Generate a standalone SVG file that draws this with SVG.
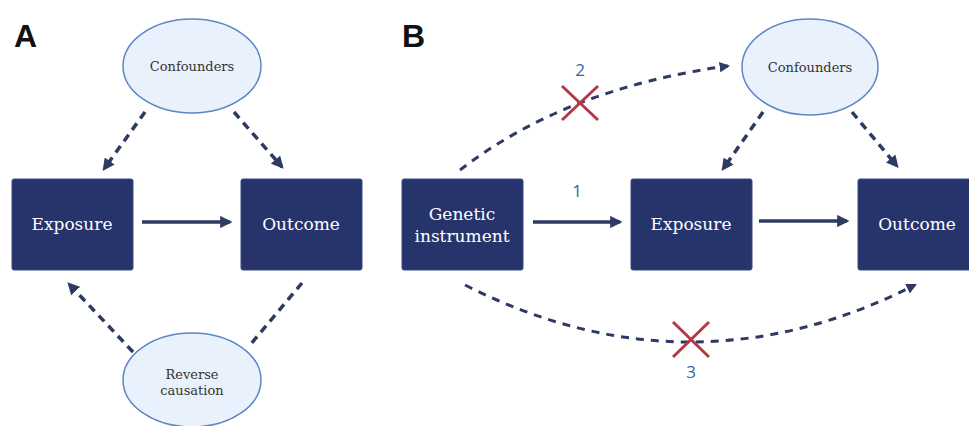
<svg xmlns="http://www.w3.org/2000/svg" width="969" height="426" viewBox="0 0 969 426">
<defs>
<style>
.box{fill:#27336b;stroke:#3a4680;stroke-width:1}
.ell{fill:#e9f1fc;stroke:#5c86c4;stroke-width:1.5}
.bt{font-family:"DejaVu Serif","Liberation Serif",serif;font-size:17px;fill:#ffffff;text-anchor:middle}
.et{font-family:"DejaVu Serif","Liberation Serif",serif;font-size:13px;fill:#333333;text-anchor:middle}
.lab{font-family:"Liberation Sans",Arial,sans-serif;font-size:32px;font-weight:bold;fill:#111111}
.num{font-family:"Open Sans","Liberation Sans",sans-serif;font-size:17px;fill:#2f6aa0;text-anchor:middle}
.dash{fill:none;stroke:#2d3a62;stroke-width:3.5;stroke-dasharray:8 6}
.dashc{fill:none;stroke:#2d3a62;stroke-width:3;stroke-dasharray:8 7}
.solid{fill:none;stroke:#2d3a62;stroke-width:3.5}
.x{stroke:#b23a48;stroke-width:3;fill:none}
</style>
<marker id="ah" viewBox="0 0 10 10" refX="8" refY="5" markerWidth="3.5" markerHeight="3.5" orient="auto" markerUnits="strokeWidth">
<path d="M0,0 L10,5 L0,10 Z" fill="#2d3a62"/>
</marker>
</defs>

<text class="lab" x="14" y="47">A</text>
<text class="lab" x="402" y="47">B</text>

<g id="connectors">
<line class="solid" x1="142" y1="222" x2="230" y2="222" marker-end="url(#ah)"/>
<line class="dash" x1="145" y1="112" x2="104" y2="169" marker-end="url(#ah)"/>
<line class="dash" x1="234" y1="112" x2="282" y2="167" marker-end="url(#ah)"/>
<line class="dash" x1="133" y1="352" x2="69" y2="284" marker-end="url(#ah)"/>
<line class="dash" x1="302" y1="283" x2="250" y2="345"/>

<line class="solid" x1="533" y1="222" x2="620" y2="222" marker-end="url(#ah)"/>
<line class="solid" x1="759" y1="221" x2="847" y2="221" marker-end="url(#ah)"/>
<line class="dash" x1="763" y1="112" x2="723" y2="169" marker-end="url(#ah)"/>
<line class="dash" x1="852" y1="112" x2="897" y2="166" marker-end="url(#ah)"/>
<path class="dashc" d="M460,170 Q566,88 728,66" marker-end="url(#ah)"/>
<path class="dashc" d="M465,285 Q690,399 915,285" marker-end="url(#ah)"/>
<path class="x" d="M562,86 L598,120 M562,120 L598,86"/>
<path class="x" d="M673,322 L709,357 M673,357 L709,322"/>
<text class="num" x="580" y="76">2</text>
<text class="num" x="577" y="197">1</text>
<text class="num" x="691" y="378">3</text>
</g>

<g id="a-confounders">
<ellipse class="ell" cx="192" cy="66" rx="69" ry="47"/>
<text class="et" x="192" y="71">Confounders</text>
</g>
<g id="a-exposure">
<rect class="box" x="12" y="179" width="121" height="91" rx="2"/>
<text class="bt" x="72" y="230">Exposure</text>
</g>
<g id="a-outcome">
<rect class="box" x="241" y="179" width="121" height="91" rx="2"/>
<text class="bt" x="301" y="230">Outcome</text>
</g>
<g id="a-reverse">
<ellipse class="ell" cx="192" cy="380" rx="69" ry="47"/>
<text class="et" x="192" y="379">Reverse</text>
<text class="et" x="192" y="395">causation</text>
</g>

<g id="b-genetic">
<rect class="box" x="402" y="179" width="121" height="91" rx="2"/>
<text class="bt" x="462" y="220">Genetic</text>
<text class="bt" x="462" y="242">instrument</text>
</g>
<g id="b-exposure">
<rect class="box" x="631" y="179" width="121" height="91" rx="2"/>
<text class="bt" x="691" y="230">Exposure</text>
</g>
<g id="b-outcome">
<rect class="box" x="858" y="179" width="121" height="91" rx="2"/>
<text class="bt" x="917" y="230">Outcome</text>
</g>
<g id="b-confounders">
<ellipse class="ell" cx="810" cy="67" rx="68" ry="48"/>
<text class="et" x="810" y="72">Confounders</text>
</g>
</svg>
